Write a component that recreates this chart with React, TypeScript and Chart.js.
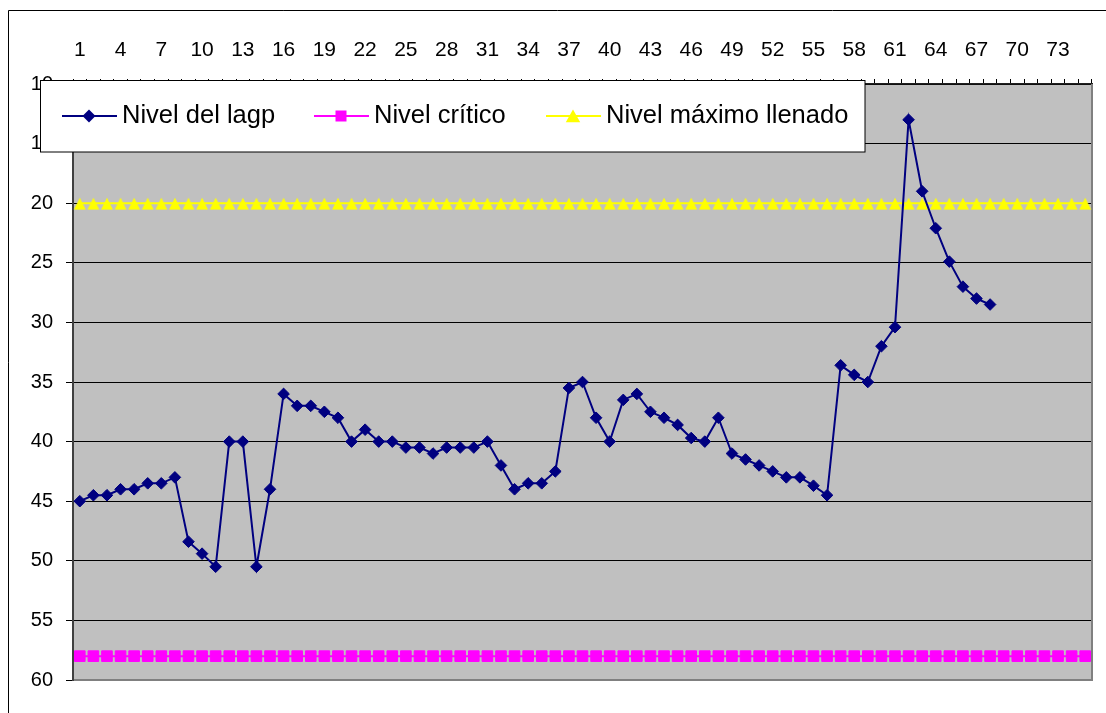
import React, { useEffect, useRef } from 'react';
import { Chart, registerables } from 'chart.js';

Chart.register(...registerables);

// ---------- DATA ----------
const categories = [
  '1', '2', '3', '4', '5', '6', '7', '8', '9', '10',
  '11', '12', '13', '14', '15', '16', '17', '18', '19', '20',
  '21', '22', '23', '24', '25', '26', '27', '28', '29', '30',
  '31', '32', '33', '34', '35', '36', '37', '38', '39', '40',
  '41', '42', '43', '44', '45', '46', '47', '48', '49', '50',
  '51', '52', '53', '54', '55', '56', '57', '58', '59', '60',
  '61', '62', '63', '64', '65', '66', '67', '68', '69', '70',
  '71', '72', '73', '74', '75',
];

const xTickLabels = [
  '1', '4', '7', '10', '13', '16', '19', '22', '25', '28', '31', '34', '37',
  '40', '43', '46', '49', '52', '55', '58', '61', '64', '67', '70', '73',
];

const yAxisMin = 10;
const yAxisMax = 60;
const yAxisStep = 5;

const seriesNames = ['Nivel del lagp', 'Nivel crítico', 'Nivel máximo llenado'];

const nivelLago = [
  45, 44.5, 44.5, 44, 44, 43.5, 43.5, 43,
  48.4, 49.4, 50.5, 40, 40, 50.5, 44,
  36, 37, 37, 37.5, 38, 40, 39, 40,
  40, 40.5, 40.5, 41, 40.5, 40.5, 40.5, 40,
  42, 44, 43.5, 43.5, 42.5, 35.5, 35, 38, 40,
  36.5, 36, 37.5, 38, 38.6, 39.7, 40,
  38, 41, 41.5, 42, 42.5, 43, 43, 43.7, 44.5,
  33.6, 34.4, 35, 32, 30.4, 13, 19, 22.1, 24.9, 27, 28, 28.5,
];

const nivelCritico = [
  58, 58, 58, 58, 58, 58, 58, 58, 58, 58,
  58, 58, 58, 58, 58, 58, 58, 58, 58, 58,
  58, 58, 58, 58, 58, 58, 58, 58, 58, 58,
  58, 58, 58, 58, 58, 58, 58, 58, 58, 58,
  58, 58, 58, 58, 58, 58, 58, 58, 58, 58,
  58, 58, 58, 58, 58, 58, 58, 58, 58, 58,
  58, 58, 58, 58, 58, 58, 58, 58, 58, 58,
  58, 58, 58, 58, 58,
];

const nivelMaximo = [
  20, 20, 20, 20, 20, 20, 20, 20, 20, 20,
  20, 20, 20, 20, 20, 20, 20, 20, 20, 20,
  20, 20, 20, 20, 20, 20, 20, 20, 20, 20,
  20, 20, 20, 20, 20, 20, 20, 20, 20, 20,
  20, 20, 20, 20, 20, 20, 20, 20, 20, 20,
  20, 20, 20, 20, 20, 20, 20, 20, 20, 20,
  20, 20, 20, 20, 20, 20, 20, 20, 20, 20,
  20, 20, 20, 20, 20,
];

const seriesColors = ['#000080', '#FF00FF', '#FFFF00'];

// ---------- STYLE ----------
const FONT = "'Liberation Sans', Arial, Helvetica, sans-serif";

function makeTriangleMarker(color: string): HTMLCanvasElement {
  // Excel-like triangle whose box is centred slightly low around the value
  const c = document.createElement('canvas');
  c.width = 14;
  c.height = 14;
  const g = c.getContext('2d')!;
  g.fillStyle = color;
  g.beginPath();
  g.moveTo(7, 1.5);
  g.lineTo(13, 13.5);
  g.lineTo(1, 13.5);
  g.closePath();
  g.fill();
  return c;
}

const framePlugin = {
  id: 'frameAndBackground',
  beforeDraw(chart: any) {
    const { ctx, chartArea: a } = chart;
    ctx.save();
    ctx.fillStyle = '#ffffff';
    ctx.fillRect(0, 0, chart.width, chart.height);
    ctx.strokeStyle = '#000000';
    ctx.lineWidth = 1;
    ctx.beginPath();
    ctx.moveTo(8.5, chart.height + 5);
    ctx.lineTo(8.5, 10.5);
    ctx.lineTo(chart.width + 5, 10.5);
    ctx.stroke();
    ctx.fillStyle = '#C0C0C0';
    ctx.fillRect(a.left, a.top, a.right - a.left, a.bottom - a.top);
    ctx.restore();
  },
  beforeDatasetsDraw(chart: any) {
    const { ctx, chartArea: a } = chart;
    ctx.save();
    ctx.strokeStyle = '#808080';
    ctx.lineWidth = 2;
    ctx.beginPath();
    ctx.moveTo(a.left + 1, a.bottom);
    ctx.lineTo(a.right, a.bottom);
    ctx.lineTo(a.right, a.top);
    ctx.stroke();
    ctx.restore();
  },
};

const legendPlugin = {
  id: 'boxLegend',
  afterDraw(chart: any) {
    const ctx = chart.ctx;
    ctx.save();
    ctx.fillStyle = '#ffffff';
    ctx.fillRect(40.5, 80.5, 824.5, 71.5);
    ctx.strokeStyle = '#000000';
    ctx.lineWidth = 1;
    ctx.strokeRect(40.5, 80.5, 824.5, 71.5);

    const starts = [62, 314, 546];
    const textX = [122, 374, 606];
    const shapes = ['diamond', 'square', 'triangle'];
    const cy = 116;
    chart.data.datasets.forEach((ds: any, i: number) => {
      const x0 = starts[i];
      ctx.strokeStyle = ds.borderColor;
      ctx.lineWidth = 2;
      ctx.beginPath();
      ctx.moveTo(x0, cy);
      ctx.lineTo(x0 + 55, cy);
      ctx.stroke();
      const cx = x0 + 27;
      ctx.fillStyle = ds.borderColor;
      ctx.beginPath();
      if (shapes[i] === 'diamond') {
        const r = 6.5;
        ctx.moveTo(cx, cy - r);
        ctx.lineTo(cx + r, cy);
        ctx.lineTo(cx, cy + r);
        ctx.lineTo(cx - r, cy);
      } else if (shapes[i] === 'square') {
        const h = 5.5;
        ctx.rect(cx - h, cy - h, 2 * h, 2 * h);
      } else {
        ctx.moveTo(cx, cy - 6.5);
        ctx.lineTo(cx + 7.2, cy + 6.3);
        ctx.lineTo(cx - 7.2, cy + 6.3);
      }
      ctx.closePath();
      ctx.fill();
      ctx.fillStyle = '#000000';
      ctx.font = `25.5px ${FONT}`;
      ctx.textBaseline = 'alphabetic';
      ctx.textAlign = 'left';
      ctx.fillText(ds.label, textX[i], 122.5);
    });
    ctx.restore();
  },
};

export default function App() {
  const canvasRef = useRef<HTMLCanvasElement | null>(null);

  useEffect(() => {
    const canvas = canvasRef.current;
    if (!canvas) return;
    const triangle = makeTriangleMarker(seriesColors[2]);
    const chart = new Chart(canvas, {
      type: 'line',
      data: {
        labels: categories,
        datasets: [
          {
            label: seriesNames[0],
            data: nivelLago,
            borderColor: seriesColors[0],
            backgroundColor: seriesColors[0],
            pointBackgroundColor: seriesColors[0],
            pointBorderColor: seriesColors[0],
            pointStyle: 'rectRot',
            pointRadius: 5.8,
            pointBorderWidth: 1,
            borderWidth: 2,
            tension: 0,
            fill: false,
          },
          {
            label: seriesNames[1],
            data: nivelCritico,
            borderColor: seriesColors[1],
            backgroundColor: seriesColors[1],
            pointBackgroundColor: seriesColors[1],
            pointBorderColor: seriesColors[1],
            pointStyle: 'rect',
            pointRadius: 7.5,
            pointBorderWidth: 1,
            borderWidth: 2,
            tension: 0,
            fill: false,
          },
          {
            label: seriesNames[2],
            data: nivelMaximo,
            borderColor: seriesColors[2],
            backgroundColor: seriesColors[2],
            pointBackgroundColor: seriesColors[2],
            pointBorderColor: seriesColors[2],
            pointStyle: triangle,
            pointRadius: 7,
            pointBorderWidth: 0,
            borderWidth: 2,
            tension: 0,
            fill: false,
          },
        ],
      },
      options: {
        responsive: false,
        animation: false,
        maintainAspectRatio: false,
        layout: { padding: { left: 0, top: 20, right: 14, bottom: 33 } },
        plugins: {
          legend: { display: false },
          tooltip: { enabled: false },
          title: { display: false },
        },
        scales: {
          x: {
            type: 'category',
            position: 'top',
            offset: true,
            afterFit: (s: any) => {
              s.height = 64;
            },
            grid: {
              display: true,
              drawOnChartArea: false,
              drawTicks: true,
              tickLength: 5,
              color: '#000000',
              offset: true,
            },
            border: { display: true, color: '#202020', width: 1.5 },
            ticks: {
              autoSkip: false,
              maxRotation: 0,
              minRotation: 0,
              padding: 16,
              color: '#000000',
              font: { family: FONT, size: 21 },
              callback: (_v: any, idx: number) =>
                xTickLabels.includes(categories[idx]) ? categories[idx] : '',
            },
          },
          y: {
            type: 'linear',
            position: 'left',
            reverse: true,
            min: yAxisMin,
            max: yAxisMax,
            afterFit: (s: any) => {
              s.width = 73;
            },
            grid: {
              display: true,
              drawOnChartArea: true,
              drawTicks: true,
              tickLength: 7,
              color: (c: any) => (c.tick && c.tick.value === yAxisMax ? '#808080' : '#000000'),
              tickColor: '#000000',
              lineWidth: 1,
            },
            border: { display: true, color: '#404040', width: 2 },
            ticks: {
              stepSize: yAxisStep,
              padding: 13,
              color: '#000000',
              font: { family: FONT, size: 20 },
            },
          },
        },
      },
      plugins: [framePlugin, legendPlugin],
    } as any);
    return () => chart.destroy();
  }, []);

  return (
    <div style={{ position: 'absolute', left: 0, top: 0, width: 1106, height: 713, background: '#fff' }}>
      <canvas ref={canvasRef} width={1106} height={713} style={{ display: 'block', width: 1106, height: 713 }} />
    </div>
  );
}
